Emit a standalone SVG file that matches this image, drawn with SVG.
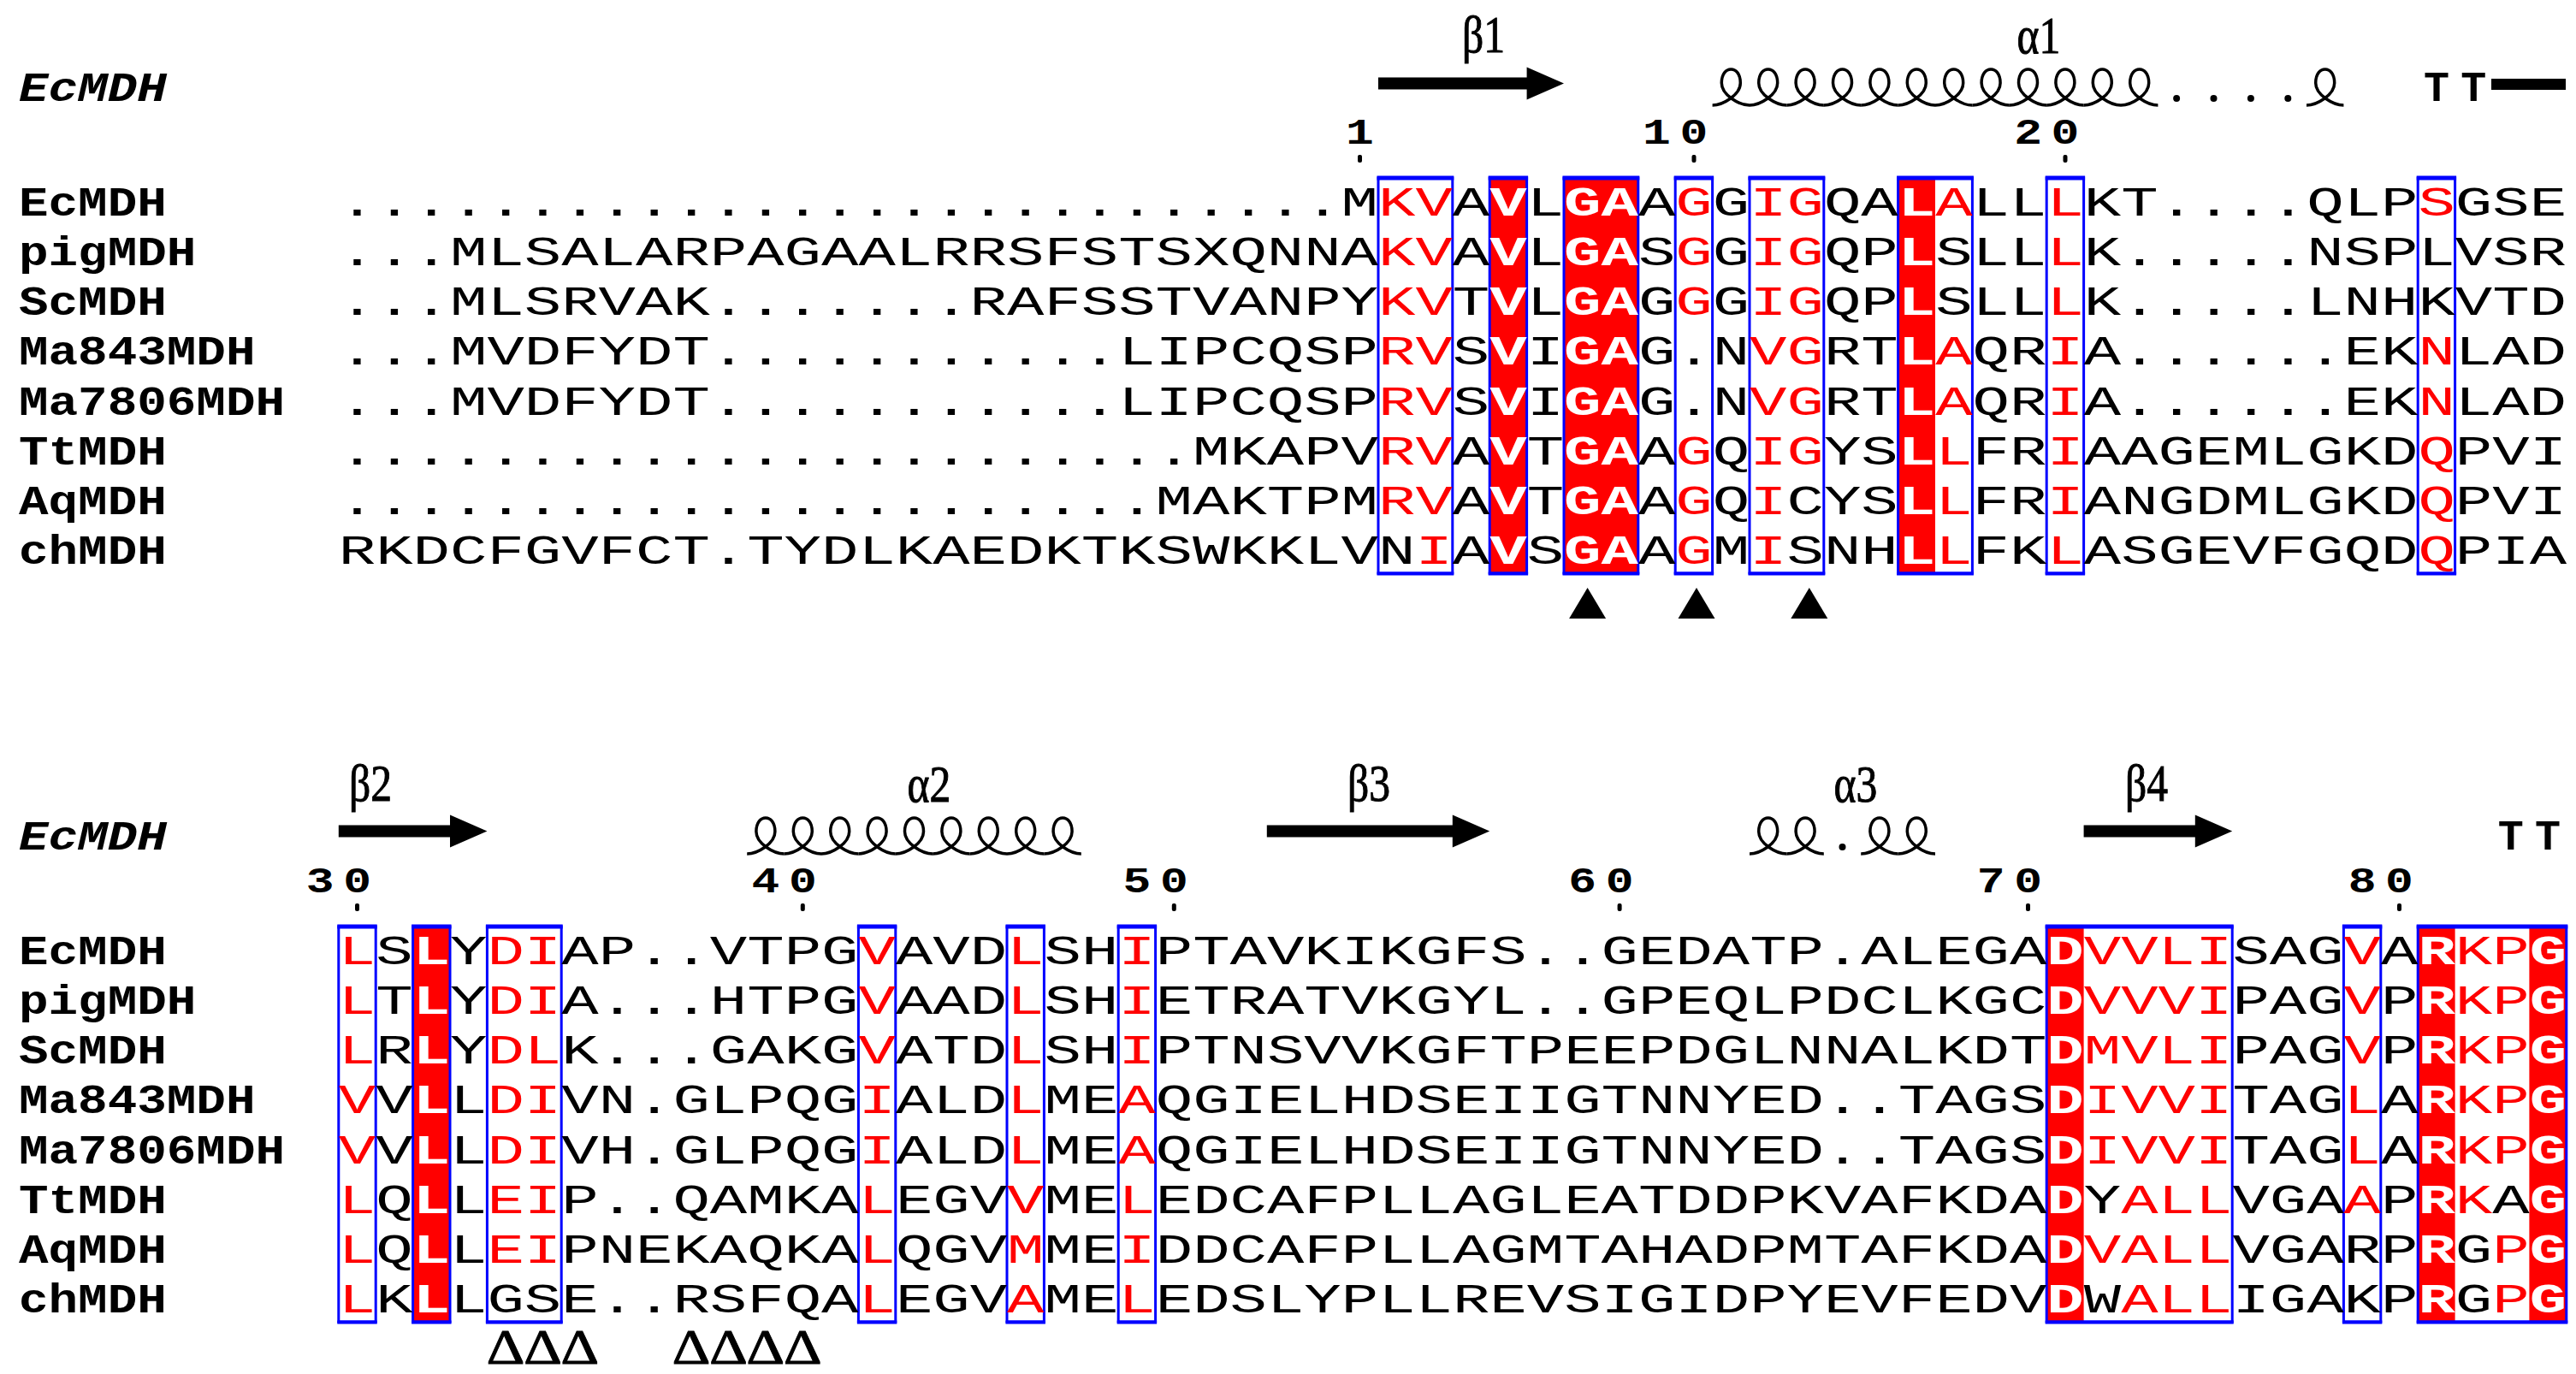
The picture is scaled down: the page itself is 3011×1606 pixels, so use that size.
<svg xmlns="http://www.w3.org/2000/svg" xmlns:xlink="http://www.w3.org/1999/xlink" width="3011" height="1606" viewBox="0 0 3011 1606">
<style>
.seq{font-family:"Liberation Mono",monospace;font-size:48px;fill:#000}
.r{fill:#ff0000}
.w{fill:#ffffff;font-weight:bold}
.nm{font-family:"Liberation Mono",monospace;font-size:48px;font-weight:bold;fill:#000}
.num{font-family:"Liberation Mono",monospace;font-size:42px;font-weight:bold;text-anchor:middle;fill:#000}
.tt{font-family:"Liberation Mono",monospace;font-size:50px;font-weight:bold;text-anchor:middle;fill:#000}
.ss{font-family:"Liberation Serif",serif;font-size:62px;text-anchor:middle;fill:#000;stroke:#000;stroke-width:1}
.dl{font-family:"Liberation Serif",serif;font-size:56px;text-anchor:middle;fill:#000;stroke:#000;stroke-width:0.8}
.bx{fill:none;stroke:#0000ff;stroke-width:3}
.bb{fill:#0000ff}
.rf{fill:#ff0000}
.hx{fill:none;stroke:#000;stroke-width:3.5;stroke-linejoin:round}
.k{fill:#000}
</style>
<defs>
<path id="hx" class="hx" d="M0,0 C12,0 32.7,-12 32.7,-26 C32.7,-37 27.2,-42 21.7,-42 C16.2,-42 10.7,-37 10.7,-26 C10.7,-12 31.4,0 43.4,0"/>
</defs>
<rect width="3011" height="1606" fill="#fff"/>

<g id="block1">
  <text class="nm" font-style="italic" transform="translate(22,118) scale(1.2,1)">EcMDH</text>
  <text class="ss" transform="translate(1734,61) scale(0.8,1)">β1</text>
  <text class="ss" transform="translate(2383,62) scale(0.8,1)">α1</text>
  <polygon class="k" points="1611,90.5 1784.6,90.5 1784.6,78.5 1828,97.5 1784.6,116.5 1784.6,104.5 1611,104.5"/>
  <g id="helix1">
    <use xlink:href="#hx" href="#hx" x="2001.6" y="123"/>
    <use xlink:href="#hx" href="#hx" x="2045.0" y="123"/>
    <use xlink:href="#hx" href="#hx" x="2088.4" y="123"/>
    <use xlink:href="#hx" href="#hx" x="2131.8" y="123"/>
    <use xlink:href="#hx" href="#hx" x="2175.2" y="123"/>
    <use xlink:href="#hx" href="#hx" x="2218.6" y="123"/>
    <use xlink:href="#hx" href="#hx" x="2262.0" y="123"/>
    <use xlink:href="#hx" href="#hx" x="2305.4" y="123"/>
    <use xlink:href="#hx" href="#hx" x="2348.8" y="123"/>
    <use xlink:href="#hx" href="#hx" x="2392.2" y="123"/>
    <use xlink:href="#hx" href="#hx" x="2435.6" y="123"/>
    <use xlink:href="#hx" href="#hx" x="2479.0" y="123"/>
    <circle class="k" cx="2544.1" cy="115" r="4"/>
    <circle class="k" cx="2587.5" cy="115" r="4"/>
    <circle class="k" cx="2630.9" cy="115" r="4"/>
    <circle class="k" cx="2674.3" cy="115" r="4"/>
    <use xlink:href="#hx" href="#hx" x="2696.0" y="123"/>
  </g>
  <text class="tt" x="2847.9 2891.3" y="118">TT</text>
  <rect class="k" x="2912" y="92" width="87" height="13"/>
  <text class="num" transform="scale(1.3,1)" x="1222.6" y="168">1</text>
  <text class="num" transform="scale(1.3,1)" x="1489.6 1523.0" y="168">10</text>
  <text class="num" transform="scale(1.3,1)" x="1823.5 1856.8" y="168">20</text>
  <rect class="k" x="1587" y="181" width="5" height="9" rx="2"/>
  <rect class="k" x="1977.5" y="181" width="5" height="9" rx="2"/>
  <rect class="k" x="2411.5" y="181" width="5" height="9" rx="2"/>
  <rect class="rf" x="1741.2" y="208" width="43.4" height="462"/>
  <rect class="rf" x="1828.0" y="208" width="86.8" height="462"/>
  <rect class="rf" x="2218.6" y="208" width="43.4" height="462"/>
  <g id="boxes1">
    <rect class="bx" x="1611.0" y="208" width="86.8" height="462"/>
    <rect class="bx" x="1741.2" y="208" width="43.4" height="462"/>
    <rect class="bx" x="1828.0" y="208" width="86.8" height="462"/>
    <rect class="bx" x="1958.2" y="208" width="43.4" height="462"/>
    <rect class="bx" x="2045.0" y="208" width="86.8" height="462"/>
    <rect class="bx" x="2218.6" y="208" width="86.8" height="462"/>
    <rect class="bx" x="2392.2" y="208" width="43.4" height="462"/>
    <rect class="bx" x="2826.2" y="208" width="43.4" height="462"/>
    <rect class="bb" x="1609.5" y="205.5" width="89.8" height="5"/>
    <rect class="bb" x="1739.7" y="205.5" width="46.4" height="5"/>
    <rect class="bb" x="1826.5" y="205.5" width="89.8" height="5"/>
    <rect class="bb" x="1956.7" y="205.5" width="46.4" height="5"/>
    <rect class="bb" x="2043.5" y="205.5" width="89.8" height="5"/>
    <rect class="bb" x="2217.1" y="205.5" width="89.8" height="5"/>
    <rect class="bb" x="2390.7" y="205.5" width="46.4" height="5"/>
    <rect class="bb" x="2824.7" y="205.5" width="46.4" height="5"/>
    <rect class="bb" x="1609.5" y="668.5" width="89.8" height="4"/>
    <rect class="bb" x="1739.7" y="668.5" width="46.4" height="4"/>
    <rect class="bb" x="1826.5" y="668.5" width="89.8" height="4"/>
    <rect class="bb" x="1956.7" y="668.5" width="46.4" height="4"/>
    <rect class="bb" x="2043.5" y="668.5" width="89.8" height="4"/>
    <rect class="bb" x="2217.1" y="668.5" width="89.8" height="4"/>
    <rect class="bb" x="2390.7" y="668.5" width="46.4" height="4"/>
    <rect class="bb" x="2824.7" y="668.5" width="46.4" height="4"/>
  </g>
  <text class="nm" transform="translate(22,251.7) scale(1.2,1)">EcMDH</text>
  <text class="nm" transform="translate(22,309.9) scale(1.2,1)">pigMDH</text>
  <text class="nm" transform="translate(22,368.1) scale(1.2,1)">ScMDH</text>
  <text class="nm" transform="translate(22,426.3) scale(1.2,1)">Ma843MDH</text>
  <text class="nm" transform="translate(22,484.5) scale(1.2,1)">Ma7806MDH</text>
  <text class="nm" transform="translate(22,542.7) scale(1.2,1)">TtMDH</text>
  <text class="nm" transform="translate(22,600.9) scale(1.2,1)">AqMDH</text>
  <text class="nm" transform="translate(22,659.1) scale(1.2,1)">chMDH</text>
  <text class="seq" transform="translate(395.8,251.7) scale(1.50694,1)">...........................M<tspan class="r">KV</tspan>A<tspan class="w">V</tspan>L<tspan class="w">GA</tspan>A<tspan class="r">G</tspan>G<tspan class="r">IG</tspan>QA<tspan class="w">L</tspan><tspan class="r">A</tspan>LL<tspan class="r">L</tspan>KT....QLP<tspan class="r">S</tspan>GSE</text>
  <text class="seq" transform="translate(395.8,309.9) scale(1.50694,1)">...MLSALARPAGAALRRSFSTSXQNNA<tspan class="r">KV</tspan>A<tspan class="w">V</tspan>L<tspan class="w">GA</tspan>S<tspan class="r">G</tspan>G<tspan class="r">IG</tspan>QP<tspan class="w">L</tspan>SLL<tspan class="r">L</tspan>K.....NSPLVSR</text>
  <text class="seq" transform="translate(395.8,368.1) scale(1.50694,1)">...MLSRVAK.......RAFSSTVANPY<tspan class="r">KV</tspan>T<tspan class="w">V</tspan>L<tspan class="w">GA</tspan>G<tspan class="r">G</tspan>G<tspan class="r">IG</tspan>QP<tspan class="w">L</tspan>SLL<tspan class="r">L</tspan>K.....LNHKVTD</text>
  <text class="seq" transform="translate(395.8,426.3) scale(1.50694,1)">...MVDFYDT...........LIPCQSP<tspan class="r">RV</tspan>S<tspan class="w">V</tspan>I<tspan class="w">GA</tspan>G.N<tspan class="r">VG</tspan>RT<tspan class="w">L</tspan><tspan class="r">A</tspan>QR<tspan class="r">I</tspan>A......EK<tspan class="r">N</tspan>LAD</text>
  <text class="seq" transform="translate(395.8,484.5) scale(1.50694,1)">...MVDFYDT...........LIPCQSP<tspan class="r">RV</tspan>S<tspan class="w">V</tspan>I<tspan class="w">GA</tspan>G.N<tspan class="r">VG</tspan>RT<tspan class="w">L</tspan><tspan class="r">A</tspan>QR<tspan class="r">I</tspan>A......EK<tspan class="r">N</tspan>LAD</text>
  <text class="seq" transform="translate(395.8,542.7) scale(1.50694,1)">.......................MKAPV<tspan class="r">RV</tspan>A<tspan class="w">V</tspan>T<tspan class="w">GA</tspan>A<tspan class="r">G</tspan>Q<tspan class="r">IG</tspan>YS<tspan class="w">L</tspan><tspan class="r">L</tspan>FR<tspan class="r">I</tspan>AAGEMLGKD<tspan class="r">Q</tspan>PVI</text>
  <text class="seq" transform="translate(395.8,600.9) scale(1.50694,1)">......................MAKTPM<tspan class="r">RV</tspan>A<tspan class="w">V</tspan>T<tspan class="w">GA</tspan>A<tspan class="r">G</tspan>Q<tspan class="r">I</tspan>CYS<tspan class="w">L</tspan><tspan class="r">L</tspan>FR<tspan class="r">I</tspan>ANGDMLGKD<tspan class="r">Q</tspan>PVI</text>
  <text class="seq" transform="translate(395.8,659.1) scale(1.50694,1)">RKDCFGVFCT.TYDLKAEDKTKSWKKLVN<tspan class="r">I</tspan>A<tspan class="w">V</tspan>S<tspan class="w">GA</tspan>A<tspan class="r">G</tspan>M<tspan class="r">I</tspan>SNH<tspan class="w">L</tspan><tspan class="r">L</tspan>FK<tspan class="r">L</tspan>ASGEVFGQD<tspan class="r">Q</tspan>PIA</text>
  <polygon class="k" points="1855.6,687 1834.1,723 1877.1,723"/>
  <polygon class="k" points="1983,687 1961.5,723 2004.5,723"/>
  <polygon class="k" points="2114.8,687 2093.3,723 2136.3,723"/>
</g>

<g id="block2">
  <text class="nm" font-style="italic" transform="translate(22,993) scale(1.2,1)">EcMDH</text>
  <text class="ss" transform="translate(433,936) scale(0.8,1)">β2</text>
  <text class="ss" transform="translate(1086,937) scale(0.8,1)">α2</text>
  <text class="ss" transform="translate(1600,936) scale(0.8,1)">β3</text>
  <text class="ss" transform="translate(2169,937) scale(0.8,1)">α3</text>
  <text class="ss" transform="translate(2509,936) scale(0.8,1)">β4</text>
  <polygon class="k" points="395.8,964.5 526,964.5 526,952.5 569.4,971.5 526,990.5 526,978.5 395.8,978.5"/>
  <polygon class="k" points="1480.8,964.5 1697.8,964.5 1697.8,952.5 1741.2,971.5 1697.8,990.5 1697.8,978.5 1480.8,978.5"/>
  <polygon class="k" points="2435.6,964.5 2565.8,964.5 2565.8,952.5 2609.2,971.5 2565.8,990.5 2565.8,978.5 2435.6,978.5"/>
  <g id="helix2">
    <use xlink:href="#hx" href="#hx" x="873.2" y="998"/>
    <use xlink:href="#hx" href="#hx" x="916.6" y="998"/>
    <use xlink:href="#hx" href="#hx" x="960.0" y="998"/>
    <use xlink:href="#hx" href="#hx" x="1003.4" y="998"/>
    <use xlink:href="#hx" href="#hx" x="1046.8" y="998"/>
    <use xlink:href="#hx" href="#hx" x="1090.2" y="998"/>
    <use xlink:href="#hx" href="#hx" x="1133.6" y="998"/>
    <use xlink:href="#hx" href="#hx" x="1177.0" y="998"/>
    <use xlink:href="#hx" href="#hx" x="1220.4" y="998"/>
  </g>
  <g id="helix3">
    <use xlink:href="#hx" href="#hx" x="2045.0" y="998"/>
    <use xlink:href="#hx" href="#hx" x="2088.4" y="998"/>
    <circle class="k" cx="2153.5" cy="990" r="4"/>
    <use xlink:href="#hx" href="#hx" x="2175.2" y="998"/>
    <use xlink:href="#hx" href="#hx" x="2218.6" y="998"/>
  </g>
  <text class="tt" x="2934.7 2978.1" y="993">TT</text>
  <text class="num" transform="scale(1.3,1)" x="287.8 321.2" y="1043">30</text>
  <text class="num" transform="scale(1.3,1)" x="688.4 721.8" y="1043">40</text>
  <text class="num" transform="scale(1.3,1)" x="1022.2 1055.6" y="1043">50</text>
  <text class="num" transform="scale(1.3,1)" x="1422.8 1456.2" y="1043">60</text>
  <text class="num" transform="scale(1.3,1)" x="1790.1 1823.5" y="1043">70</text>
  <text class="num" transform="scale(1.3,1)" x="2123.9 2157.3" y="1043">80</text>
  <rect class="k" x="415" y="1056" width="5" height="9" rx="2"/>
  <rect class="k" x="935.8" y="1056" width="5" height="9" rx="2"/>
  <rect class="k" x="1369.8" y="1056" width="5" height="9" rx="2"/>
  <rect class="k" x="1890.6" y="1056" width="5" height="9" rx="2"/>
  <rect class="k" x="2368" y="1056" width="5" height="9" rx="2"/>
  <rect class="k" x="2802" y="1056" width="5" height="9" rx="2"/>
  <rect class="rf" x="482.6" y="1083" width="43.4" height="462"/>
  <rect class="rf" x="2392.2" y="1083" width="43.4" height="462"/>
  <rect class="rf" x="2826.2" y="1083" width="43.4" height="462"/>
  <rect class="rf" x="2956.4" y="1083" width="43.4" height="462"/>
  <g id="boxes2">
    <rect class="bx" x="395.8" y="1083" width="43.4" height="462"/>
    <rect class="bx" x="482.6" y="1083" width="43.4" height="462"/>
    <rect class="bx" x="569.4" y="1083" width="86.8" height="462"/>
    <rect class="bx" x="1003.4" y="1083" width="43.4" height="462"/>
    <rect class="bx" x="1177.0" y="1083" width="43.4" height="462"/>
    <rect class="bx" x="1307.2" y="1083" width="43.4" height="462"/>
    <rect class="bx" x="2392.2" y="1083" width="217" height="462"/>
    <rect class="bx" x="2739.4" y="1083" width="43.4" height="462"/>
    <rect class="bx" x="2826.2" y="1083" width="173.6" height="462"/>
    <rect class="bb" x="394.3" y="1080.5" width="46.4" height="5"/>
    <rect class="bb" x="481.1" y="1080.5" width="46.4" height="5"/>
    <rect class="bb" x="567.9" y="1080.5" width="89.8" height="5"/>
    <rect class="bb" x="1001.9" y="1080.5" width="46.4" height="5"/>
    <rect class="bb" x="1175.5" y="1080.5" width="46.4" height="5"/>
    <rect class="bb" x="1305.7" y="1080.5" width="46.4" height="5"/>
    <rect class="bb" x="2390.7" y="1080.5" width="220" height="5"/>
    <rect class="bb" x="2737.9" y="1080.5" width="46.4" height="5"/>
    <rect class="bb" x="2824.7" y="1080.5" width="176.6" height="5"/>
    <rect class="bb" x="394.3" y="1543.5" width="46.4" height="4"/>
    <rect class="bb" x="481.1" y="1543.5" width="46.4" height="4"/>
    <rect class="bb" x="567.9" y="1543.5" width="89.8" height="4"/>
    <rect class="bb" x="1001.9" y="1543.5" width="46.4" height="4"/>
    <rect class="bb" x="1175.5" y="1543.5" width="46.4" height="4"/>
    <rect class="bb" x="1305.7" y="1543.5" width="46.4" height="4"/>
    <rect class="bb" x="2390.7" y="1543.5" width="220" height="4"/>
    <rect class="bb" x="2737.9" y="1543.5" width="46.4" height="4"/>
    <rect class="bb" x="2824.7" y="1543.5" width="176.6" height="4"/>
  </g>
  <text class="nm" transform="translate(22,1126.7) scale(1.2,1)">EcMDH</text>
  <text class="nm" transform="translate(22,1184.9) scale(1.2,1)">pigMDH</text>
  <text class="nm" transform="translate(22,1243.1) scale(1.2,1)">ScMDH</text>
  <text class="nm" transform="translate(22,1301.3) scale(1.2,1)">Ma843MDH</text>
  <text class="nm" transform="translate(22,1359.5) scale(1.2,1)">Ma7806MDH</text>
  <text class="nm" transform="translate(22,1417.7) scale(1.2,1)">TtMDH</text>
  <text class="nm" transform="translate(22,1475.9) scale(1.2,1)">AqMDH</text>
  <text class="nm" transform="translate(22,1534.1) scale(1.2,1)">chMDH</text>
  <text class="seq" transform="translate(395.8,1126.7) scale(1.50694,1)"><tspan class="r">L</tspan>S<tspan class="w">L</tspan>Y<tspan class="r">DI</tspan>AP..VTPG<tspan class="r">V</tspan>AVD<tspan class="r">L</tspan>SH<tspan class="r">I</tspan>PTAVKIKGFS..GEDATP.ALEGA<tspan class="w">D</tspan><tspan class="r">VVLI</tspan>SAG<tspan class="r">V</tspan>A<tspan class="w">R</tspan><tspan class="r">KP</tspan><tspan class="w">G</tspan></text>
  <text class="seq" transform="translate(395.8,1184.9) scale(1.50694,1)"><tspan class="r">L</tspan>T<tspan class="w">L</tspan>Y<tspan class="r">DI</tspan>A...HTPG<tspan class="r">V</tspan>AAD<tspan class="r">L</tspan>SH<tspan class="r">I</tspan>ETRATVKGYL..GPEQLPDCLKGC<tspan class="w">D</tspan><tspan class="r">VVVI</tspan>PAG<tspan class="r">V</tspan>P<tspan class="w">R</tspan><tspan class="r">KP</tspan><tspan class="w">G</tspan></text>
  <text class="seq" transform="translate(395.8,1243.1) scale(1.50694,1)"><tspan class="r">L</tspan>R<tspan class="w">L</tspan>Y<tspan class="r">DL</tspan>K...GAKG<tspan class="r">V</tspan>ATD<tspan class="r">L</tspan>SH<tspan class="r">I</tspan>PTNSVVKGFTPEEPDGLNNALKDT<tspan class="w">D</tspan><tspan class="r">MVLI</tspan>PAG<tspan class="r">V</tspan>P<tspan class="w">R</tspan><tspan class="r">KP</tspan><tspan class="w">G</tspan></text>
  <text class="seq" transform="translate(395.8,1301.3) scale(1.50694,1)"><tspan class="r">V</tspan>V<tspan class="w">L</tspan>L<tspan class="r">DI</tspan>VN.GLPQG<tspan class="r">I</tspan>ALD<tspan class="r">L</tspan>ME<tspan class="r">A</tspan>QGIELHDSEIIGTNNYED..TAGS<tspan class="w">D</tspan><tspan class="r">IVVI</tspan>TAG<tspan class="r">L</tspan>A<tspan class="w">R</tspan><tspan class="r">KP</tspan><tspan class="w">G</tspan></text>
  <text class="seq" transform="translate(395.8,1359.5) scale(1.50694,1)"><tspan class="r">V</tspan>V<tspan class="w">L</tspan>L<tspan class="r">DI</tspan>VH.GLPQG<tspan class="r">I</tspan>ALD<tspan class="r">L</tspan>ME<tspan class="r">A</tspan>QGIELHDSEIIGTNNYED..TAGS<tspan class="w">D</tspan><tspan class="r">IVVI</tspan>TAG<tspan class="r">L</tspan>A<tspan class="w">R</tspan><tspan class="r">KP</tspan><tspan class="w">G</tspan></text>
  <text class="seq" transform="translate(395.8,1417.7) scale(1.50694,1)"><tspan class="r">L</tspan>Q<tspan class="w">L</tspan>L<tspan class="r">EI</tspan>P..QAMKA<tspan class="r">L</tspan>EGV<tspan class="r">V</tspan>ME<tspan class="r">L</tspan>EDCAFPLLAGLEATDDPKVAFKDA<tspan class="w">D</tspan>Y<tspan class="r">ALL</tspan>VGA<tspan class="r">A</tspan>P<tspan class="w">R</tspan><tspan class="r">K</tspan>A<tspan class="w">G</tspan></text>
  <text class="seq" transform="translate(395.8,1475.9) scale(1.50694,1)"><tspan class="r">L</tspan>Q<tspan class="w">L</tspan>L<tspan class="r">EI</tspan>PNEKAQKA<tspan class="r">L</tspan>QGV<tspan class="r">M</tspan>ME<tspan class="r">I</tspan>DDCAFPLLAGMTAHADPMTAFKDA<tspan class="w">D</tspan><tspan class="r">VALL</tspan>VGARP<tspan class="w">R</tspan>G<tspan class="r">P</tspan><tspan class="w">G</tspan></text>
  <text class="seq" transform="translate(395.8,1534.1) scale(1.50694,1)"><tspan class="r">L</tspan>K<tspan class="w">L</tspan>LGSE..RSFQA<tspan class="r">L</tspan>EGV<tspan class="r">A</tspan>ME<tspan class="r">L</tspan>EDSLYPLLREVSIGIDPYEVFEDV<tspan class="w">D</tspan>W<tspan class="r">ALL</tspan>IGAKP<tspan class="w">R</tspan>G<tspan class="r">P</tspan><tspan class="w">G</tspan></text>
  <text class="dl" transform="scale(1.25,1)" x="472.9 507.6 542.3" y="1594">ΔΔΔ</text>
  <text class="dl" transform="scale(1.25,1)" x="646.5 681.2 715.9 750.6" y="1594">ΔΔΔΔ</text>
</g>
</svg>
